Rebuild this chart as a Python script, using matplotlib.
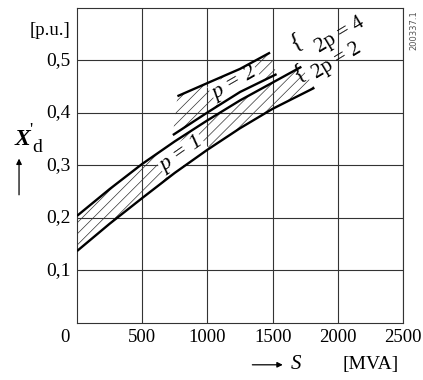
import matplotlib
matplotlib.use("Agg")
import matplotlib.pyplot as plt

# X'd [p.u.] against rating S [MVA]
s_p1_low = [0, 250, 500, 750, 1000, 1250, 1500, 1820]
x_p1_low = [0.137, 0.189, 0.238, 0.286, 0.330, 0.371, 0.408, 0.448]
s_p1_up = [0, 250, 500, 750, 1000, 1250, 1500, 1720]
x_p1_up = [0.204, 0.255, 0.303, 0.346, 0.386, 0.424, 0.458, 0.488]
s_p2_low = [735, 1000, 1250, 1530]
x_p2_low = [0.358, 0.401, 0.440, 0.474]
s_p2_up = [770, 1000, 1250, 1480]
x_p2_up = [0.432, 0.457, 0.484, 0.515]

x_ticks = [500, 1000, 1500, 2000, 2500]
y_ticks = [0.1, 0.2, 0.3, 0.4, 0.5]
y_tick_labels = ["0,1", "0,2", "0,3", "0,4", "0,5"]

plt.rcParams["font.family"] = ["Liberation Serif", "DejaVu Serif"]
plt.rcParams["hatch.linewidth"] = 0.5

fig = plt.figure(figsize=(4.23, 3.80), dpi=100)
ax = fig.add_axes([0.182, 0.150, 0.771, 0.829])

ax.set_xlim(0, 2500)
ax.set_ylim(0, 0.6)
for v in x_ticks:
    ax.axvline(v, color="#333333", lw=0.8, zorder=1)
for v in y_ticks:
    ax.axhline(v, color="#333333", lw=0.8, zorder=1)
for sp in ax.spines.values():
    sp.set_linewidth(0.8)
    sp.set_color("#333333")
ax.set_xticks([])
ax.set_yticks([])


def band(s_lo, x_lo, s_hi, x_hi):
    xs = list(s_lo) + list(s_hi)[::-1]
    ys = list(x_lo) + list(x_hi)[::-1]
    ax.fill(xs, ys, facecolor="none", edgecolor="#333333", hatch="///",
            lw=0, zorder=2)


band(s_p1_low, x_p1_low, s_p1_up, x_p1_up)
band(s_p2_low, x_p2_low, s_p2_up, x_p2_up)

for s, x in [(s_p1_low, x_p1_low), (s_p1_up, x_p1_up),
             (s_p2_low, x_p2_low), (s_p2_up, x_p2_up)]:
    ax.plot(s, x, color="black", lw=1.7, solid_capstyle="butt", zorder=4)

# band labels
box = dict(facecolor="white", edgecolor="none", pad=1.0)
ax.text(800, 0.322, "p = 1", rotation=35, ha="center", va="center",
        fontsize=16, style="italic", bbox=box, zorder=3)
ax.text(1210, 0.456, "p = 2", rotation=30, ha="center", va="center",
        fontsize=16, style="italic", bbox=box, zorder=3)
ax.text(2020, 0.548, "2p = 4", rotation=31, ha="center", va="center",
        fontsize=15, zorder=5)
ax.text(1995, 0.498, "2p = 2", rotation=31, ha="center", va="center",
        fontsize=15, zorder=5)
ax.text(1680, 0.537, "{", rotation=25, ha="center", va="center",
        fontsize=17, zorder=5)
ax.text(1700, 0.478, "{", rotation=25, ha="center", va="center",
        fontsize=17, zorder=5)

# tick labels
for v in x_ticks:
    ax.text(v, -0.028, str(v), ha="center", va="center", fontsize=13.5)
ax.text(-90, -0.028, "0", ha="center", va="center", fontsize=13.5)
for v, lab in zip(y_ticks, y_tick_labels):
    ax.text(-50, v, lab, ha="right", va="center", fontsize=14)
ax.text(-50, 0.557, "[p.u.]", ha="right", va="center", fontsize=13.5)

# axis titles
fig.text(0.052, 0.632, "X", fontsize=17, weight="bold", style="italic",
         ha="center", va="center")
fig.text(0.074, 0.655, "'", fontsize=13, ha="center", va="center")
fig.text(0.088, 0.612, "d", fontsize=14, ha="center", va="center")
ax.annotate("", xy=(0.045, 0.59), xytext=(0.045, 0.48),
            xycoords="figure fraction",
            arrowprops=dict(arrowstyle="-|>", color="black", lw=0.9,
                            mutation_scale=8))
ax.annotate("", xy=(0.675, 0.04), xytext=(0.59, 0.04),
            xycoords="figure fraction",
            arrowprops=dict(arrowstyle="-|>", color="black", lw=0.9,
                            mutation_scale=8))
fig.text(0.70, 0.04, "S", fontsize=15, style="italic", ha="center", va="center")
fig.text(0.875, 0.04, "[MVA]", fontsize=14, ha="center", va="center")

fig.text(0.978, 0.92, "200337.1", rotation=90, fontsize=6, color="#555555",
         family="DejaVu Sans", ha="center", va="center")

fig.savefig("out.png", dpi=100)
